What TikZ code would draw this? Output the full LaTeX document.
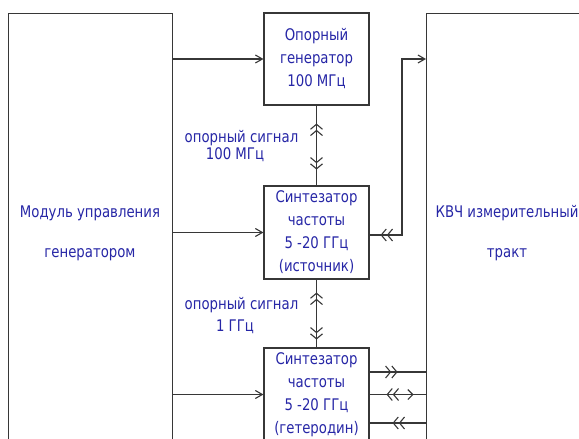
\documentclass[tikz,border=0pt]{standalone}
\usepackage{fontspec}
\setmainfont{DejaVu Sans}[FakeStretch=0.83]
\usetikzlibrary{arrows.meta,decorations.markings}
\definecolor{txt}{RGB}{38,38,166}
\definecolor{ln}{RGB}{55,55,55}
\tikzset{
  dbl/.tip={Straight Barb[length=5pt,width=12pt,sep=0pt] Straight Barb[length=5pt,width=12pt,sep=0pt]},
  sgl/.tip={Straight Barb[length=5pt,width=10pt]},
}
\begin{document}
\begin{tikzpicture}[x=1pt,y=-1pt,
  box/.style={draw=ln, line width=1.1pt, inner sep=0pt, text=txt, align=center,
    font=\fontsize{16}{23}\selectfont},
  lbl/.style={text=txt, align=center, inner sep=0pt},
  con/.style={draw=ln, line width=1.1pt},
  >={Straight Barb[length=7pt,width=8pt]},
  marks/.style={postaction={decorate,decoration={markings,#1}}}
]
\useasboundingbox (0,0) rectangle (579,439);
% big side blocks
\node[box, minimum width=164pt, minimum height=440pt, anchor=north west] (L) at (8,13) {};
\node[lbl, font=\fontsize{16}{40}\selectfont] (Ltxt) at (90,233) {Модуль управления\\генератором};
\node[box, minimum width=180pt, minimum height=440pt, anchor=north west] (R) at (426,13) {};
\node[lbl, font=\fontsize{16}{40}\selectfont] (Rtxt) at (507,233) {КВЧ измерительный\\тракт};
% central blocks
\node[box, minimum width=105pt, minimum height=92pt] (T) at (316.5,59) {Опорный\\генератор\\100 МГц};
\node[box, minimum width=105pt, minimum height=93pt] (S1) at (316.5,232.5) {Синтезатор\\частоты\\5 -20 ГГц\\(источник)};
\node[box, minimum width=105pt, minimum height=93pt] (S2) at (316.5,394.5) {Синтезатор\\частоты\\5 -20 ГГц\\(гетеродин)};
% labels
\node[lbl, font=\fontsize{16}{17}\selectfont] (lab1) at (241.5,146) {опорный сигнал\\\hspace*{-13pt}100 МГц};
\node[lbl, font=\fontsize{16}{22}\selectfont] (lab2) at (241.5,316) {опорный сигнал\\\hspace*{-13pt}1 ГГц};
% connectors from control module
\draw[con,->] (T.west -| L.east) -- (T.west);
\draw[con,->] (S1.west -| L.east) -- (S1.west);
\draw[con,->] (S2.west -| L.east) -- (S2.west);
% reference signal links
\draw[con, marks={mark=at position 18pt with {\arrowreversed{dbl}}, mark=at position 64pt with {\arrow{dbl}}}] (T.south) -- (S1.north);
\draw[con, marks={mark=at position 13pt with {\arrowreversed{dbl}}, mark=at position 60pt with {\arrow{dbl}}}] (S1.south) -- (S2.north);
% source output to measuring path
\coordinate (a1) at ([yshift=-2.5pt]S1.east);
\coordinate (k) at (402,59);
\draw[con,->, marks={mark=at position 11pt with {\arrowreversed{dbl}}}] (a1) -| (k) -- (k -| R.west);
% heterodyne links
\coordinate (b1) at ([yshift=22.5pt]S2.east);
\coordinate (b2) at (S2.east);
\coordinate (b3) at ([yshift=-28.5pt]S2.east);
\draw[con, marks={mark=at position 28pt with {\arrow{dbl}}}] (b1) -- (b1 -| R.west);
\draw[con, marks={mark=at position 17pt with {\arrowreversed{dbl}}, mark=at position 44pt with {\arrow{sgl}}}] (b2) -- (b2 -| R.west);
\draw[con, marks={mark=at position 23pt with {\arrowreversed{dbl}}}] (b3) -- (b3 -| R.west);
\end{tikzpicture}
\end{document}
